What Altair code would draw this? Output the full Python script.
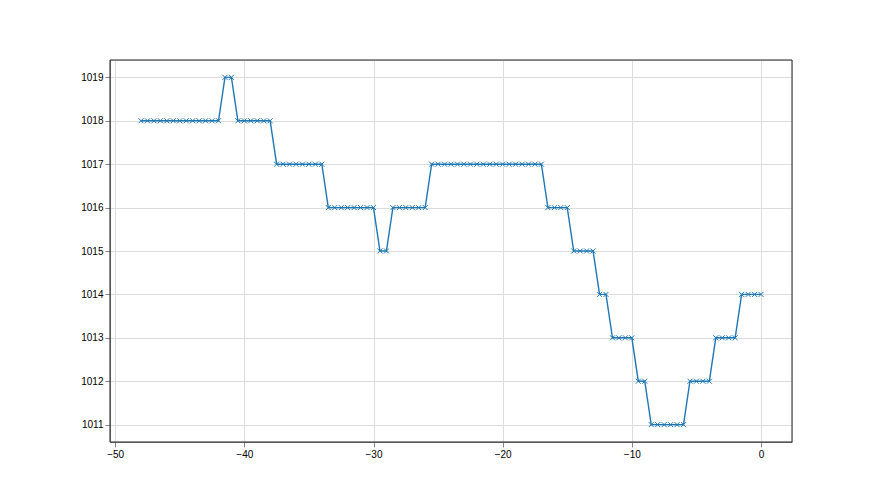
import altair as alt
import pandas as pd

x_start = -48.0
step = 0.5
# runs of (value, count)
runs = [
    (1018, 13),  # -48 .. -42
    (1019, 2),   # -41.5, -41
    (1018, 6),   # -40.5 .. -38
    (1017, 8),   # -37.5 .. -34
    (1016, 8),   # -33.5 .. -30
    (1015, 2),   # -29.5, -29
    (1016, 6),   # -28.5 .. -26
    (1017, 18),  # -25.5 .. -17
    (1016, 4),   # -16.5 .. -15
    (1015, 4),   # -14.5 .. -13
    (1014, 2),   # -12.5, -12
    (1013, 4),   # -11.5 .. -10
    (1012, 2),   # -9.5, -9
    (1011, 6),   # -8.5 .. -6
    (1012, 4),   # -5.5 .. -4
    (1013, 4),   # -3.5 .. -2
    (1014, 4),   # -1.5 .. 0
]
values = []
for v, n in runs:
    values.extend([v] * n)
xs = [x_start + step * i for i in range(len(values))]

df = pd.DataFrame({"x": xs, "y": values})

W, H = 682, 382

x_enc = alt.X("x:Q", scale=alt.Scale(domain=[-50.4, 2.4], nice=False, zero=False),
              axis=alt.Axis(values=[-50, -40, -30, -20, -10, 0], title=None, grid=True))
y_enc = alt.Y("y:Q", scale=alt.Scale(domain=[1010.6, 1019.4], nice=False, zero=False),
              axis=alt.Axis(values=list(range(1011, 1020)), title=None, grid=True, format="d"))

base = alt.Chart(df).encode(x=x_enc, y=y_enc)
line = base.mark_line(color="#1f77b4", strokeWidth=1.4)
pts = base.mark_point(shape="M-1,-1L1,1M-1,1L1,-1", filled=False, color="#1f77b4",
                      size=25, strokeWidth=1, opacity=1)
frame = alt.Chart(pd.DataFrame({"k": [0]})).mark_rect(
    fill=None, stroke="#222222", strokeWidth=1
).encode(x=alt.value(0), x2=alt.value(W), y=alt.value(0), y2=alt.value(H))

chart = (line + pts + frame).properties(
    width=W, height=H,
    autosize=alt.AutoSizeParams(type="none"),
    padding={"left": 102, "top": 52, "right": 80, "bottom": 50},
).configure_view(stroke=None).configure_axis(
    gridColor="#b8b8b8", gridWidth=0.8, domain=False,
    tickColor="#222222", tickSize=3.5, labelColor="#000000",
    labelFont="DejaVu Sans", labelFontSize=10, labelPadding=3,
).configure(background="white")

chart.save("out.html", embed_options={"renderer": "svg", "actions": False})
